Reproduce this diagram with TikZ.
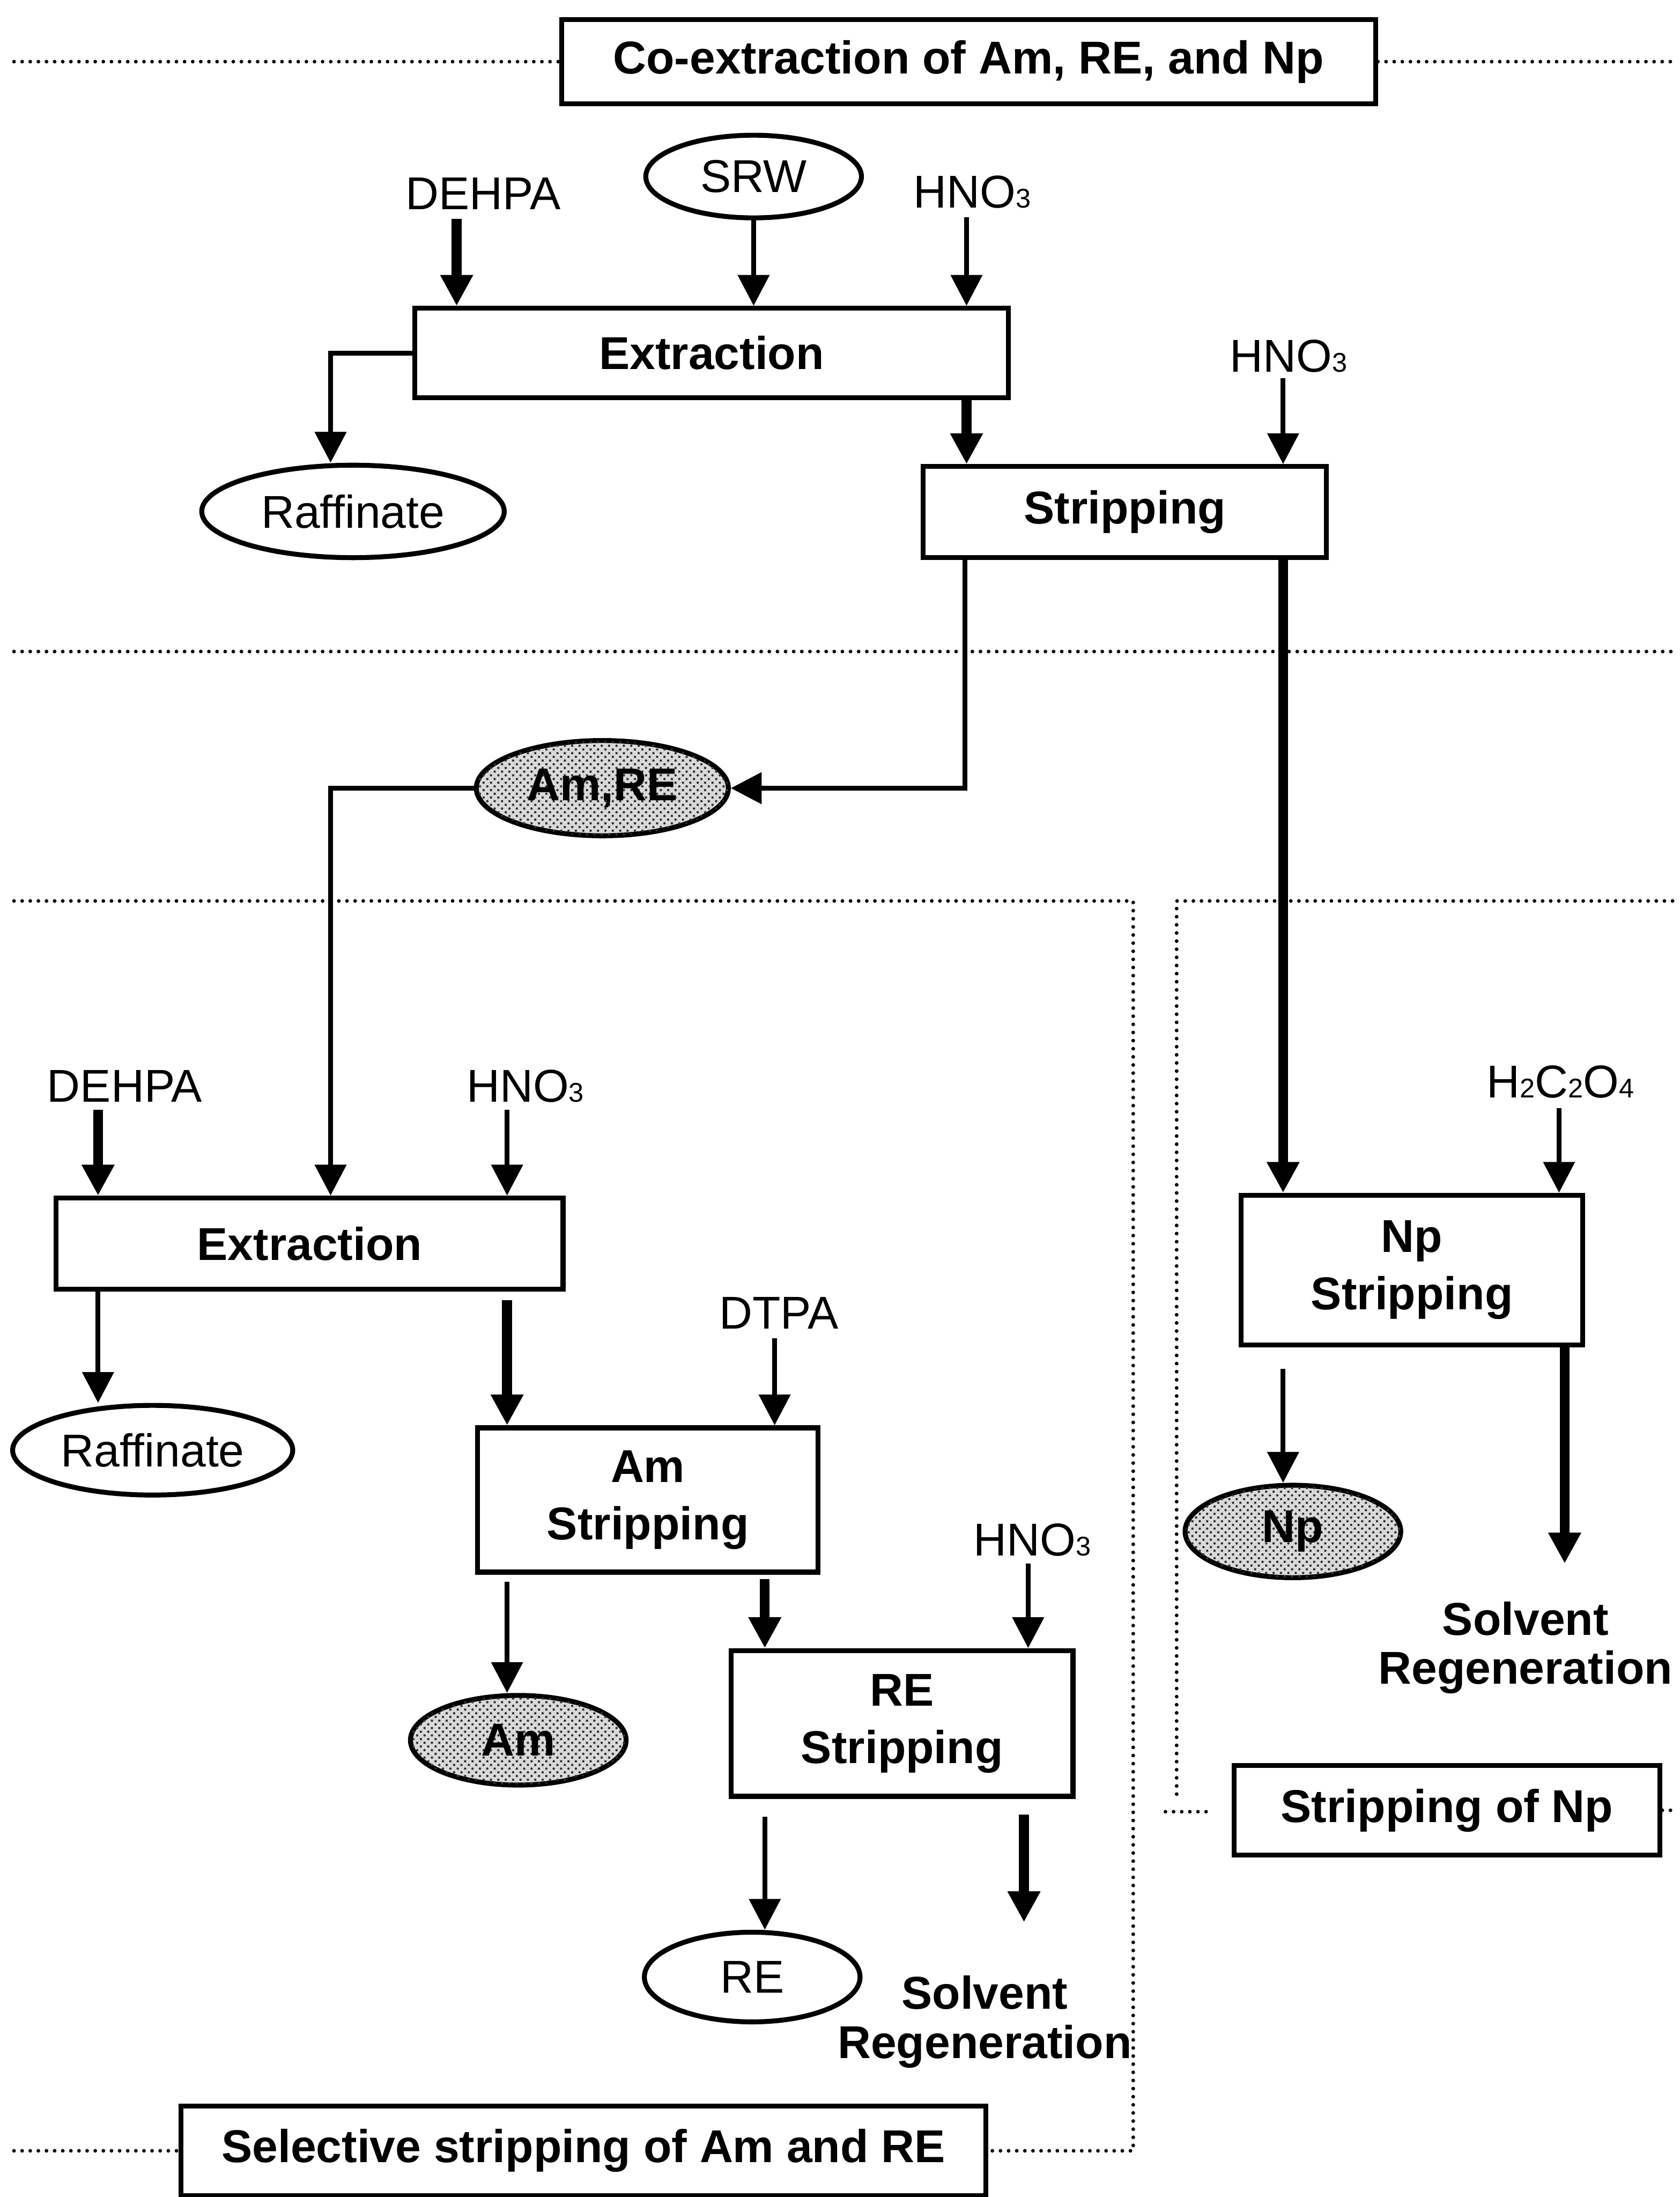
\documentclass[tikz,border=0pt]{standalone}
\usepackage{fontspec}
\setmainfont{Liberation Sans}
\usetikzlibrary{arrows.meta, positioning, shapes.geometric, patterns}
\newcommand{\chsub}[1]{{\fontsize{11}{11}\selectfont #1}}

\begin{document}
\begin{tikzpicture}[x=0.02cm, y=-0.02cm,
    every node/.style={font=\fontsize{18.7}{23}\selectfont},
    stage/.style={draw, line width=2pt, inner sep=0pt, align=center, font=\fontsize{18.7}{23.3}\selectfont\bfseries},
    stream/.style={draw, ellipse, line width=2pt, inner sep=0pt},
    product/.style={stream, fill=gray!30, postaction={pattern=crosshatch dots, pattern color=black!80}, font=\fontsize{18.7}{23}\selectfont\bfseries},
    waste/.style={align=center, font=\fontsize{18.7}{20}\selectfont\bfseries},
    flow/.style={line width=2pt, -{Triangle[width=0.44cm, length=0.44cm]}},
    mainflow/.style={flow, line width=4pt},
    secline/.style={line width=1.5pt, line cap=round, dash pattern=on 0pt off 3.3pt}]
        \useasboundingbox (0,0) rectangle (1199,1568);

        % co-extraction
        \node[stage, minimum width=11.62cm, minimum height=1.2cm] (coex) at (691.5,44) {Co-extraction of Am, RE, and Np};
        \node[stream, minimum width=3.08cm, minimum height=1.18cm] (srw) at (538,126) {SRW};
        \node (dehpaA) at (345,138) {DEHPA};
        \node (hnoA) at (694,137) {HNO\chsub{3}};
        \node[stage, minimum width=8.48cm, minimum height=1.28cm] (extrA) at (508,252) {Extraction};
        \node[stream, minimum width=4.32cm, minimum height=1.32cm] (raffA) at (252,365) {Raffinate};
        \node (hnoB) at (920,254) {HNO\chsub{3}};
        \node[stage, minimum width=5.76cm, minimum height=1.3cm] (stripA) at (803,365.5) {Stripping};

        \coordinate (dehpaAin) at (326,156);
        \coordinate (hnoAin) at (690,155);
        \coordinate (hnoBin) at (916,270);
        \coordinate (raffAturn) at (236,365);
        \draw[mainflow] (dehpaAin) -- (dehpaAin |- extrA.north);
        \draw[flow] (srw.south) -- (srw.south |- extrA.north);
        \draw[flow] (hnoAin) -- (hnoAin |- extrA.north);
        \draw[flow] (extrA.west) -| (raffAturn |- raffA.north);
        \draw[mainflow] (hnoAin |- extrA.south) -- (hnoAin |- stripA.north);
        \draw[flow] (hnoBin) -- (hnoBin |- stripA.north);

        % Am, RE
        \node[product, minimum width=3.6cm, minimum height=1.36cm] (amre) at (430,562.5) {Am,RE};
        \coordinate (amreturn) at (689,562.5);
        \coordinate (amreturnB) at (236,562.5);
        \draw[flow] (amreturn |- stripA.south) -- (amreturn) -- (amre.east);

        % selective stripping of Am and RE
        \node (dehpaB) at (89,775) {DEHPA};
        \node (hnoC) at (375,775) {HNO\chsub{3}};
        \node[stage, minimum width=7.24cm, minimum height=1.3cm] (extrB) at (221,887.5) {Extraction};
        \node[stream, minimum width=4cm, minimum height=1.28cm] (raffB) at (109,1035) {Raffinate};
        \node (dtpa) at (556,937) {DTPA};
        \node[stage, minimum width=4.86cm, minimum height=2.06cm] (amstrip) at (462.5,1070.5) {Am\\Stripping};
        \node[product, minimum width=3.08cm, minimum height=1.28cm] (amell) at (370,1242) {Am};
        \node (hnoD) at (737,1099) {HNO\chsub{3}};
        \node[stage, minimum width=4.88cm, minimum height=2.08cm] (restrip) at (644,1230) {RE\\Stripping};
        \node[stream, minimum width=3.08cm, minimum height=1.28cm] (reell) at (537,1411) {RE};
        \node[waste] (solvA) at (703,1443) {Solvent\\Regeneration};
        \node[stage, minimum width=11.5cm, minimum height=1.28cm] (selbox) at (416.5,1535) {Selective stripping of Am and RE};

        \coordinate (dehpaBin) at (70,792);
        \coordinate (hnoCin) at (362,792);
        \coordinate (dtpain) at (553,955);
        \coordinate (amstripout) at (546,1127);
        \coordinate (hnoDin) at (734,1116);
        \coordinate (solvAin) at (731,1295);
        \draw[flow] (amre.west) -- (amreturnB) -- (amreturnB |- extrB.north);
        \draw[mainflow] (dehpaBin) -- (dehpaBin |- extrB.north);
        \draw[flow] (hnoCin) -- (hnoCin |- extrB.north);
        \draw[flow] (dehpaBin |- extrB.south) -- (dehpaBin |- raffB.north);
        \draw[mainflow, shorten <=0.12cm] (hnoCin |- extrB.south) -- (hnoCin |- amstrip.north);
        \draw[flow] (dtpain) -- (dtpain |- amstrip.north);
        \draw[flow, shorten <=0.1cm] (hnoCin |- amstrip.south) -- (hnoCin |- amell.north);
        \draw[mainflow] (amstripout) -- (amstripout |- restrip.north);
        \draw[flow] (hnoDin) -- (hnoDin |- restrip.north);
        \draw[flow, shorten <=0.26cm] (amstripout |- restrip.south) -- (amstripout |- reell.north);
        \draw[mainflow, shorten >=0.64cm] (solvAin) -- (solvAin |- solvA.north);

        % stripping of Np
        \node[stage, minimum width=4.88cm, minimum height=2.14cm] (npstrip) at (1008,906.5) {Np\\Stripping};
        \node (h2c2o4) at (1114,772) {H\chsub{2}C\chsub{2}O\chsub{4}};
        \node[product, minimum width=3.08cm, minimum height=1.32cm] (npell) at (923,1093) {Np};
        \node[waste] (solvB) at (1089,1176) {Solvent\\Regeneration};
        \node[stage, minimum width=6.08cm, minimum height=1.28cm] (npbox) at (1033,1292) {Stripping of Np};

        \coordinate (h2c2o4in) at (1113,791);
        \coordinate (solvBin) at (1117,960);
        \draw[mainflow] (hnoBin |- stripA.south) -- (hnoBin |- npstrip.north);
        \draw[flow] (h2c2o4in) -- (h2c2o4in |- npstrip.north);
        \draw[flow, shorten <=0.3cm] (hnoBin |- npstrip.south) -- (hnoBin |- npell.north);
        \draw[mainflow, shorten >=0.42cm] (solvBin) -- (solvBin |- solvB.north);

        % section lines
        \draw[secline] (10,44) -- (coex.west);
        \draw[secline] (coex.east) -- (1195,44);
        \draw[secline] (10,465) -- (1195,465);
        \draw[secline] (10,643) -- (809,643) -- (809,1535) -- (selbox.east);
        \draw[secline] (10,1535) -- (selbox.west);
        \draw[secline] (1194,643) -- (840,643) -- (840,1286);
        \draw[secline] (832,1293) -- (866,1293);
        \draw[secline] (npbox.east) -- (1195,1292);
\end{tikzpicture}
\end{document}
